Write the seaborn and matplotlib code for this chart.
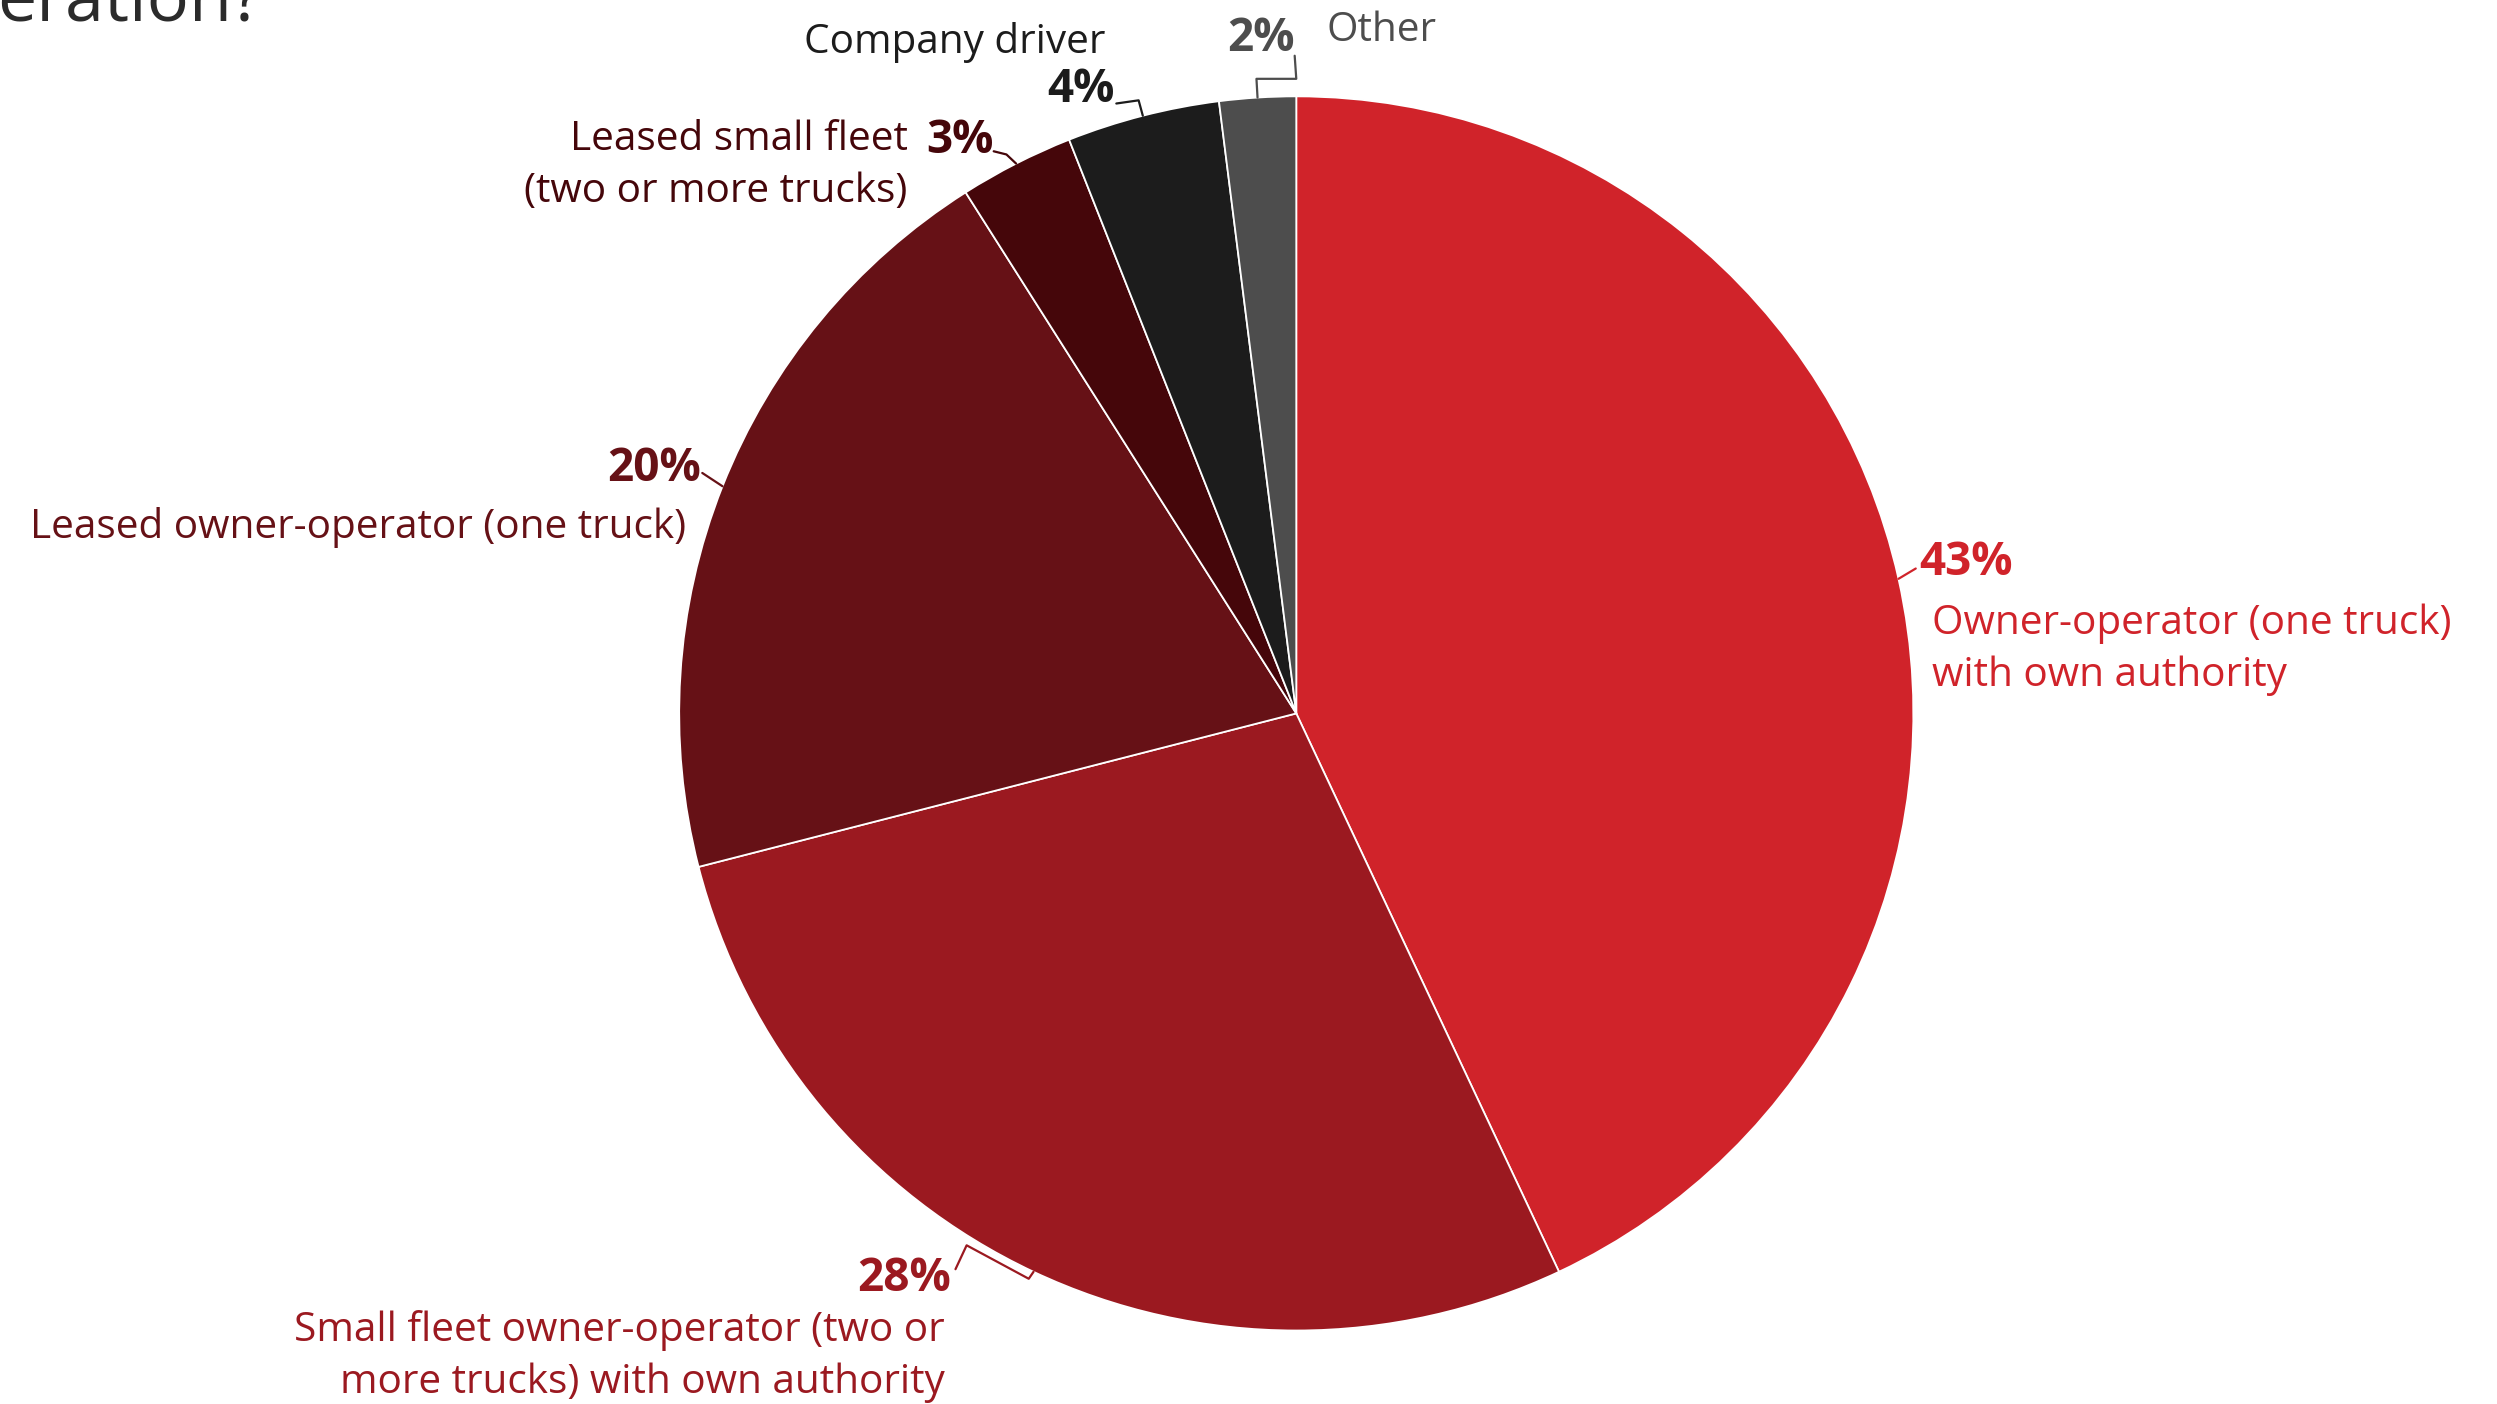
import numpy as np
import matplotlib
matplotlib.use("Agg")
import matplotlib.pyplot as plt
import seaborn as sns
from matplotlib.lines import Line2D

# ---- data ----
categories = [
    "Owner-operator (one truck)\nwith own authority",
    "Small fleet owner-operator (two or\nmore trucks) with own authority",
    "Leased owner-operator (one truck)",
    "Leased small fleet\n(two or more trucks)",
    "Company driver",
    "Other",
]
values = [43, 28, 20, 3, 4, 2]
pct_labels = ["43%", "28%", "20%", "3%", "4%", "2%"]
colors = ["#D0232A", "#9B1920", "#661116", "#45060A", "#1C1C1C", "#4D4D4D"]
title_fragment = "eration?"

sns.set_theme(style="white")
plt.rcParams["font.family"] = ["Open Sans", "DejaVu Sans"]

W, H = 2497, 1404
S = W / 1568.0
fig = plt.figure(figsize=(W / 100, H / 100), dpi=100)
fig.patch.set_facecolor("white")

DY = 2.0  # small vertical text offset (shrunk px)


def fx(xs):
    return xs * S / W


def fy(ys):
    return 1 - ys * S / H


# pie geometry (shrunk-pixel layout)
cxs, cys, rs = 814.0, 448.0, 387.5
ax = fig.add_axes([fx(cxs - rs), fy(cys + rs), 2 * rs * S / W, 2 * rs * S / H])
ax.pie(values, colors=colors, startangle=90, counterclock=False, radius=1,
       wedgeprops=dict(edgecolor="white", linewidth=1.3))
ax.set_xlim(-1, 1)
ax.set_ylim(-1, 1)
ax.set_axis_off()

# edge points at wedge mid angles
cum = np.cumsum([0] + values[:-1])
mids = [(c + v / 2) / sum(values) * 2 * np.pi for c, v in zip(cum, values)]
edge = [(cxs + rs * np.sin(a), cys - rs * np.cos(a)) for a in mids]

# layout: (pct x, pct y, pct ha), (label x, label y, label ha), leader points
layout = [
    dict(p=(1205, 351, "left"), l=(1213, 406, "left"), lead=[(1203, 357)]),
    dict(p=(597, 801, "right"), l=(593, 850, "right"), lead=[(600, 797), (607, 782), (646, 803)]),
    dict(p=(440, 292, "right"), l=(431, 329, "right"), lead=[(441, 297)]),
    dict(p=(624, 86, "right"), l=(570, 102, "right"), lead=[(624, 95), (632, 97)]),
    dict(p=(700, 54, "right"), l=(694, 25, "right"), lead=[(701, 65), (715, 63)]),
    dict(p=(813, 22, "right"), l=(833, 17, "left"), lead=[(813, 35), (814, 49.5), (789, 49.5)]),
]

for i, lay in enumerate(layout):
    c = colors[i]
    px_, py_, pha = lay["p"]
    fig.text(fx(px_), fy(py_ + DY), pct_labels[i], ha=pha, va="center",
             fontsize=33, fontweight="bold", color=c)
    lx, ly, lha = lay["l"]
    fig.text(fx(lx), fy(ly + DY), categories[i], ha=lha, va="center",
             fontsize=29.2, color=c, linespacing=1.38,
             multialignment=lha)
    pts = lay["lead"] + [edge[i]]
    fig.add_artist(Line2D([fx(p[0]) for p in pts], [fy(p[1]) for p in pts],
                          transform=fig.transFigure, color=c, linewidth=1.6))

fig.text(fx(-2), fy(13), title_fragment, ha="left", va="baseline",
         fontsize=50.5, color="#2B2B2B")

fig.savefig("out.png", dpi=100, facecolor="white")
